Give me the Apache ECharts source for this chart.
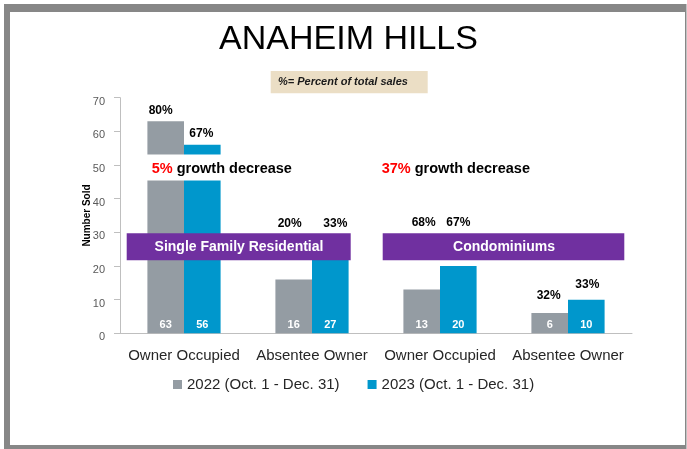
<!DOCTYPE html>
<html>
<head>
<meta charset="utf-8">
<script src="https://cdn.jsdelivr.net/npm/echarts@6/dist/echarts.min.js"></script>
<style>
html,body{margin:0;padding:0;background:#fff;}
#chart_main{width:687px;height:449px;}
</style>
</head>
<body>
<div id="chart_main"></div>
<script type="text/javascript">
// data
var categories = ['Owner Occupied', 'Absentee Owner', 'Owner Occupied', 'Absentee Owner'];
var sold2022 = [63, 16, 13, 6];
var sold2023 = [56, 27, 20, 10];
var pct2022 = ['80%', '20%', '68%', '32%'];
var pct2023 = ['67%', '33%', '67%', '33%'];
var yTicks = [0, 10, 20, 30, 40, 50, 60, 70];

// where the percent labels sit relative to the bar top (px)
var offs2022 = [[-5, 0], [-4, -45], [2, -56], [-1, -6]];
var offs2023 = [[-1, 0], [5, -8], [0, -32], [1, -4]];

var GRAY = '#949ca3', BLUE = '#0097cc', PURPLE = '#7030a0';
var FONT = '"Liberation Sans", Arial, sans-serif';

function pctData(vals, pcts, offs){
	return vals.map(function(v, i){
		return {value: v, label: {formatter: pcts[i], offset: offs[i]}};
	});
}

var myChart = echarts.init(document.getElementById('chart_main'));
var option = {
	animation: false,
	textStyle: {fontFamily: FONT},
	grid: {left: 120, right: 55, top: 97.7, bottom: 115.7},
	legend: {
		data: ['2022 (Oct. 1 - Dec. 31)', '2023 (Oct. 1 - Dec. 31)'],
		left: 168, top: 372,
		icon: 'rect', itemWidth: 9, itemHeight: 9, itemGap: 28,
		textStyle: {fontSize: 15, color: '#262626', fontFamily: FONT}
	},
	xAxis: [{
		type: 'category', data: categories,
		axisLine: {lineStyle: {color: '#bfbfbf'}},
		axisTick: {length: 5, lineStyle: {color: '#bfbfbf'}},
		axisLabel: {fontSize: 15, color: '#262626', margin: 15, interval: 0}
	}, {
		type: 'category', data: categories, show: false
	}],
	yAxis: {
		type: 'value', min: yTicks[0], max: yTicks[yTicks.length - 1], interval: 10,
		name: 'Number Sold', nameLocation: 'middle', nameGap: 28, nameMoveOverlap: false,
		nameTextStyle: {fontSize: 10, fontWeight: 'bold', color: '#000'},
		axisLine: {show: true, lineStyle: {color: '#bfbfbf'}},
		axisTick: {show: true, length: 6, lineStyle: {color: '#bfbfbf'}},
		splitLine: {show: false},
		axisLabel: {fontSize: 11, color: '#595959', margin: 15, verticalAlign: 'top', lineHeight: 8}
	},
	series: [{
		name: '2022 (Oct. 1 - Dec. 31)', type: 'bar', data: sold2022,
		barWidth: 36.6, barGap: '0%', itemStyle: {color: GRAY},
		label: {show: true, position: 'insideBottom', distance: 3, color: '#fff', fontWeight: 'bold', fontSize: 11}
	}, {
		name: '2023 (Oct. 1 - Dec. 31)', type: 'bar', data: sold2023,
		barWidth: 36.6, barGap: '0%', itemStyle: {color: BLUE},
		label: {show: true, position: 'insideBottom', distance: 3, color: '#fff', fontWeight: 'bold', fontSize: 11}
	}, {
		// percent of total sales, drawn over the same bars
		type: 'bar', xAxisIndex: 1, data: pctData(sold2022, pct2022, offs2022),
		barWidth: 36.6, barGap: '0%', itemStyle: {color: 'rgba(0,0,0,0)'}, silent: true,
		label: {show: true, position: 'top', color: '#000', fontWeight: 'bold', fontSize: 12}, z: 5
	}, {
		type: 'bar', xAxisIndex: 1, data: pctData(sold2023, pct2023, offs2023),
		barWidth: 36.6, barGap: '0%', itemStyle: {color: 'rgba(0,0,0,0)'}, silent: true,
		label: {show: true, position: 'top', color: '#000', fontWeight: 'bold', fontSize: 12}, z: 5
	}],
	graphic: [
		// slide frame
		{type: 'rect', z: -10, shape: {x: 4, y: 4, width: 682.5, height: 445}, style: {fill: '#878787'}},
		{type: 'rect', z: -9, shape: {x: 10, y: 12, width: 675, height: 433}, style: {fill: '#fff'}},
		{type: 'text', z: 100, x: 348.5, y: 39.5, style: {text: 'ANAHEIM HILLS', font: '34px ' + FONT, fill: '#000', textAlign: 'center', textVerticalAlign: 'middle'}},
		{type: 'rect', z: 100, shape: {x: 270.7, y: 71, width: 157, height: 22.3}, style: {fill: '#ebdec5'}},
		{type: 'text', z: 101, x: 278, y: 82.2, style: {text: '%= Percent of total sales', font: 'italic bold 11px ' + FONT, fill: '#1a1a1a', textVerticalAlign: 'middle'}},
		// growth notes
		{type: 'rect', z: 100, shape: {x: 140, y: 154.5, width: 160, height: 26}, style: {fill: '#fff'}},
		{type: 'text', z: 101, x: 151.7, y: 169.3, style: {
			text: '{r|5%} growth decrease', textVerticalAlign: 'middle',
			font: 'bold 14.5px ' + FONT, fill: '#000',
			rich: {r: {fill: '#ff0000', font: 'bold 14.5px ' + FONT}}
		}},
		{type: 'text', z: 101, x: 381.7, y: 169.3, style: {
			text: '{r|37%} growth decrease', textVerticalAlign: 'middle',
			font: 'bold 14.5px ' + FONT, fill: '#000',
			rich: {r: {fill: '#ff0000', font: 'bold 14.5px ' + FONT}}
		}},
		// category bands
		{type: 'rect', z: 100, shape: {x: 126.7, y: 233.3, width: 224, height: 27}, style: {fill: PURPLE}},
		{type: 'text', z: 101, x: 239, y: 247, style: {text: 'Single Family Residential', font: 'bold 14px ' + FONT, fill: '#fff', textAlign: 'center', textVerticalAlign: 'middle'}},
		{type: 'rect', z: 100, shape: {x: 382.7, y: 233.3, width: 241.6, height: 27}, style: {fill: PURPLE}},
		{type: 'text', z: 101, x: 504, y: 247, style: {text: 'Condominiums', font: 'bold 14px ' + FONT, fill: '#fff', textAlign: 'center', textVerticalAlign: 'middle'}}
	]
};
myChart.setOption(option);
</script>
</body>
</html>
